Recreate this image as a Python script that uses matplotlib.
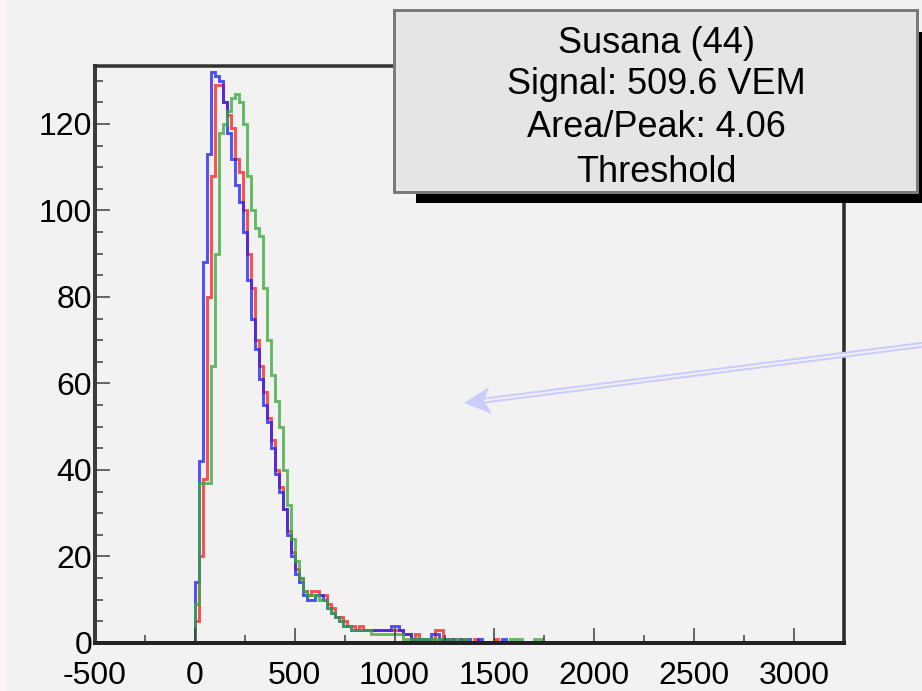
import numpy as np
import matplotlib
matplotlib.use("Agg")
import matplotlib.pyplot as plt
from matplotlib.patches import Rectangle, Polygon
from matplotlib.ticker import MultipleLocator

plt.rcParams["font.family"] = ["Liberation Sans", "DejaVu Sans"]
plt.rcParams["axes.unicode_minus"] = False

# Histogram binning (VEM units)
BIN_WIDTH = 20
HIST_START = -500
HIST_STOP = 3260
DATA_START = 0

# Counts per 20-unit bin, starting at 0
counts_red = [5, 20, 38, 80, 108, 129, 129, 125, 122, 119,
              112, 109, 100, 90, 82, 70, 64, 58, 52, 47,
              40, 36, 31, 26, 21, 17, 15, 12, 11, 12,
              12, 11, 11, 9, 8, 6, 6, 5, 4, 4,
              3, 4, 3, 3, 3, 3, 3, 3, 3, 3,
              3, 3, 2, 2, 1, 2, 1, 1, 1, 1,
              3, 3, 1, 1, 1, 0, 1, 1, 0, 0,
              1, 0, 0, 0, 0, 1, 0, 0, 0, 0,
              0, 0, 0, 0, 0, 0, 0, 0, 0, 0]
counts_blue = [14, 42, 88, 113, 132, 131, 130, 125, 118, 112,
               106, 102, 95, 84, 75, 68, 61, 55, 51, 45,
               39, 35, 31, 25, 20, 16, 14, 11, 10, 10,
               11, 11, 10, 8, 7, 6, 5, 4, 4, 3,
               3, 3, 3, 3, 3, 3, 3, 3, 3, 4,
               4, 3, 2, 2, 1, 1, 1, 1, 1, 2,
               2, 1, 1, 1, 1, 0, 1, 0, 1, 0,
               0, 1, 0, 0, 0, 0, 0, 1, 0, 0,
               0, 0, 0, 0, 0, 0, 0, 0, 0, 0]
counts_green = [9, 37, 37, 37, 64, 90, 118, 120, 123, 126,
                127, 125, 120, 108, 100, 96, 94, 82, 70, 62,
                56, 50, 40, 32, 24, 19, 15, 12, 11, 11,
                11, 10, 10, 8, 7, 6, 5, 4, 4, 3,
                3, 3, 3, 3, 2, 2, 2, 2, 2, 2,
                2, 2, 1, 1, 1, 1, 1, 1, 1, 1,
                1, 1, 1, 1, 0, 1, 0, 1, 0, 0,
                0, 0, 0, 0, 0, 0, 0, 0, 0, 1,
                1, 1, 0, 0, 0, 1, 1, 0, 0, 0]

x_ticks = [-500, 0, 500, 1000, 1500, 2000, 2500, 3000]
y_ticks = [0, 20, 40, 60, 80, 100, 120]
x_range = (-500, 3250)
y_range = (0, 133.4)

info_lines = ["Susana (44)", "Signal: 509.6 VEM", "Area/Peak: 4.06", "Threshold"]

BG = "#f2f2f2"
W, H = 922, 691
PX = 72.0 / 100  # points per pixel

fig = plt.figure(figsize=(W / 100, H / 100), dpi=100, facecolor=BG)
ax = fig.add_axes([95 / W, (H - 643) / H, (844 - 95) / W, (643 - 66) / H])
ax.set_facecolor(BG)

edges = np.arange(HIST_START, HIST_STOP + 1, BIN_WIDTH)
n_bins = len(edges) - 1
lead = (DATA_START - HIST_START) // BIN_WIDTH


def full_counts(vals):
    out = np.zeros(n_bins)
    out[lead:lead + len(vals)] = vals
    return out


for vals, col in [(counts_red, "#ff2020"),
                  (counts_blue, "#2020ff"),
                  (counts_green, "#3aaa3a")]:
    ax.stairs(full_counts(vals), edges, color=col, lw=2.9 * PX, alpha=0.78,
              baseline=None)

ax.set_xlim(*x_range)
ax.set_ylim(*y_range)
ax.set_xticks(x_ticks)
ax.set_yticks(y_ticks)
ax.xaxis.set_minor_locator(MultipleLocator(250))
ax.yaxis.set_minor_locator(MultipleLocator(5))
ax.tick_params(which="both", direction="in", color="#3a3a3a", width=1.5 * PX,
               labelsize=23, labelcolor="black")
ax.tick_params(which="major", length=15 * PX)
ax.tick_params(which="minor", length=8 * PX)
ax.tick_params(axis="x", which="major", pad=18 * PX)
ax.tick_params(axis="y", which="major", pad=3 * PX)

for side, lw, col in [("left", 4.0, "#3c3c3c"), ("bottom", 4.0, "#222222"),
                      ("top", 3.5, "#333333"), ("right", 3.5, "#2a2a2a")]:
    ax.spines[side].set_linewidth(lw * PX)
    ax.spines[side].set_color(col)

# Overlay in figure pixel coordinates for the info box and the arrow
ov = fig.add_axes([0, 0, 1, 1], zorder=5)
ov.set_xlim(0, W)
ov.set_ylim(H, 0)
ov.axis("off")
ov.patch.set_alpha(0)

ov.add_patch(Rectangle((0, 0), 5, H, color="#fcf4ee", lw=0))

# Info box with drop shadow
ov.add_patch(Rectangle((416, 32), 530, 171, color="black", lw=0))
ov.add_patch(Rectangle((394, 10), 523, 182, facecolor="#e5e5e5",
                       edgecolor="#7a7a7a", lw=3 * PX))
for i, line in enumerate(info_lines):
    ov.text(656, [43, 84, 127, 172][i], line, fontsize=26, ha="center",
            va="center", color="black")

# Double-line arrow
tail = (925, 344.5)
tip = (464, 403)
ov.plot([tail[0], 484], [tail[1], 400.6], color="#ccccff", lw=6 * PX,
        solid_capstyle="butt")
ov.plot([tail[0], 484], [tail[1], 400.6], color=BG, lw=1.8 * PX,
        solid_capstyle="butt")
ov.add_patch(Polygon([tip, (489, 387), (484, 400.6), (492, 414)],
                     closed=True, color="#ccccff", lw=0))

fig.savefig("out.png", dpi=100, facecolor=BG)
